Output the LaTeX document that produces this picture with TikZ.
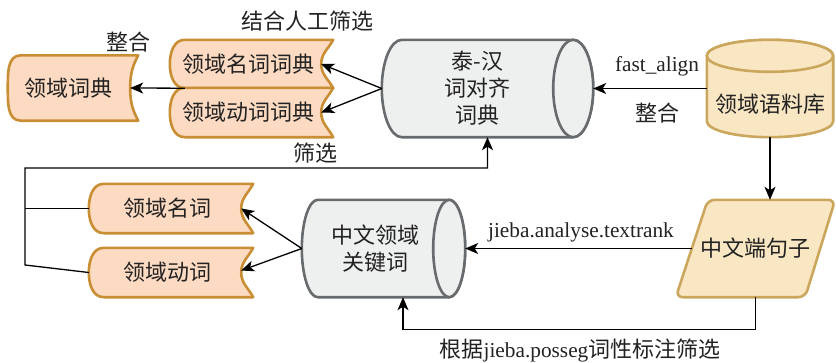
\documentclass[tikz,border=0pt]{standalone}
\usepackage{fontspec}
\setmainfont{Liberation Serif}
\newfontfamily\cjkf{Noto Sans CJK SC}
\newcommand\cjk{\cjkf\fontsize{22}{27}\selectfont}
\usetikzlibrary{arrows.meta,calc,backgrounds}
\definecolor{peachfill}{HTML}{FDDBC2}
\definecolor{peachline}{HTML}{C98E34}
\definecolor{tanfill}{HTML}{F9E6C3}
\definecolor{tanline}{HTML}{CBA75E}
\definecolor{grayfill}{HTML}{EEEFEF}
\definecolor{grayline}{HTML}{686B6E}
\definecolor{txt}{HTML}{222222}
\tikzset{
  box/.style={draw=none,inner sep=0pt,align=center,text=txt,font=\fontsize{21.3}{27}\selectfont},
  lbl/.style={inner sep=0pt,text=txt,font=\fontsize{21.3}{27}\selectfont},
  peachshape/.style={fill=peachfill,draw=peachline,line width=2.6pt,line join=round},
  tanshape/.style={fill=tanfill,draw=tanline,line width=2.6pt,line join=round},
  grayshape/.style={fill=grayfill,draw=grayline,line width=2.6pt,line join=round},
  conn/.style={draw=black,line width=1.3pt},
  arr/.style={conn,-{Stealth[length=13pt,width=11pt,inset=3.5pt]}},
}
% tape-like box: node, left bulge, right concave depth
\newcommand\tapeshape[3]{%
  \path[peachshape] let \p1=(#1.north west), \p2=(#1.south east), \n1={(\y1+\y2)/2} in
   (\x1+#2,\y1) -- (\x2,\y1) to[out=-118,in=90] (\x2-#3,\n1) to[out=-90,in=118] (\x2,\y2)
   -- (\x1+#2,\y2) to[out=180,in=-90] (\x1,\n1) to[out=90,in=180] (\x1+#2,\y1) -- cycle;}
% horizontal cylinder: node spans left extreme to right-ellipse centre
\newcommand\hcylshape[2]{%
  \path[grayshape] let \p1=(#1.north west), \p2=(#1.south east), \n1={(\y1-\y2)/2} in
   (\x1+#2,\y1) -- (\x2,\y1) arc[start angle=90,end angle=-90,x radius=#2,y radius=\n1]
   -- (\x1+#2,\y2) arc[start angle=270,end angle=90,x radius=#2,y radius=\n1] -- cycle;
  \path[grayshape] let \p1=(#1.north west), \p2=(#1.south east), \n1={(\y1-\y2)/2} in
   (\x2,\y1-\n1) ellipse[x radius=#2,y radius=\n1];}
\begin{document}
\begin{tikzpicture}[x=1pt,y=1pt]
\useasboundingbox (0,0) rectangle (836,-362);
% nodes
\node[box,minimum width=130pt,minimum height=65pt] (dict) at (73,-88) {\cjk 领域词典\hspace*{10pt}};
\node[box,minimum width=163pt,minimum height=48pt] (ndict) at (251.5,-64) {\cjk 领域名词词典\hspace*{6pt}};
\node[box,minimum width=163pt,minimum height=49pt] (vdict) at (251.5,-112.5) {\cjk 领域动词词典\hspace*{6pt}};
\node[box,minimum width=191pt,minimum height=97pt] (align) at (477.5,-88.5) {\cjk 泰-汉\\\cjk 词对齐\\\cjk 词典};
\node[box,minimum width=126pt,minimum height=65pt] (corpus) at (770,-104.5) {\cjk 领域语料库};
\node[box,minimum width=159pt,minimum height=97pt] (sent) at (755.5,-248.5) {\cjk 中文端句子};
\node[box,minimum width=147pt,minimum height=97pt] (kw) at (375.5,-248.5) {\cjk 中文领域\\\cjk 关键词};
\node[box,minimum width=164pt,minimum height=49pt] (noun) at (171,-208.5) {\cjk 领域名词\hspace*{7pt}};
\node[box,minimum width=164pt,minimum height=49pt] (verb) at (171,-272.5) {\cjk 领域动词\hspace*{7pt}};
% shapes
\begin{pgfonlayer}{background}
\tapeshape{dict}{13pt}{8pt}
\tapeshape{ndict}{15pt}{12pt}
\tapeshape{vdict}{15pt}{12pt}
\tapeshape{noun}{15pt}{12pt}
\tapeshape{verb}{15pt}{12pt}
\hcylshape{align}{20pt}
\hcylshape{kw}{16pt}
\path[tanshape] let \p1=(corpus.north west), \p2=(corpus.south east), \n1={(\x2-\x1)/2} in
  (\x1,\y1+16pt) -- (\x1,\y2+16pt) arc[start angle=180,end angle=360,x radius=\n1,y radius=16pt]
  -- (\x2,\y1+16pt) arc[start angle=0,end angle=180,x radius=\n1,y radius=16pt] -- cycle;
\path[tanshape] let \p1=(corpus.north west), \p2=(corpus.south east), \n1={(\x2-\x1)/2} in
  (\x1+\n1,\y1+16pt) ellipse[x radius=\n1,y radius=16pt];
\path[tanshape,rounded corners=7pt] let \p1=(sent.north west), \p2=(sent.south east) in
  (\x1+32pt,\y1) -- (\x2,\y1) -- (\x2-30pt,\y2) -- (\x1,\y2) -- cycle;
\end{pgfonlayer}
% helper coordinates
\coordinate (j0) at (25,-168);
\coordinate (j1) at (25,-208.5);
\coordinate (j2) at (25,-265);
% connectors
\draw[arr] ([yshift=16pt]corpus.west) -- ([xshift=20pt]align.east);
\draw[arr] (corpus.south) -- (corpus.south |- sent.north);
\draw[arr] ([xshift=16pt]sent.west) -- ([xshift=16pt]kw.east);
\draw[arr] (sent.south) -- ++(0,-32) -| ([xshift=27.5pt]kw.south);
\draw[arr] (kw.west) -- ([xshift=-12pt]noun.east);
\draw[arr] (kw.west) -- ([xshift=-12pt,yshift=2pt]verb.east);
\draw[arr] (align.west) -- ([xshift=-12pt]ndict.east);
\draw[arr] (align.west) -- ([xshift=-12pt]vdict.east);
\draw[arr] ([xshift=15pt]ndict.south west) -- ([xshift=-8pt]dict.east);
\draw[conn] (noun.west) -- (j1);
\draw[arr] (verb.west) -- (j2) -- (j0) -| ([xshift=10pt]align.south);
% labels
\node[lbl] (l1) at (128,-42) {\cjk 整合};
\node[lbl] (l2) at (307,-21) {\cjk 结合人工筛选};
\node[lbl] (l3) at (315,-153) {\cjk 筛选};
\node[lbl] (l4) at (657,-66) {fast\_align};
\node[lbl] (l5) at (657,-113) {\cjk 整合};
\node[lbl] (l6) at (581,-232) {jieba.analyse.textrank};
\node[lbl] (l7) at (580,-350) {{\cjk 根据}jieba.posseg{\cjk 词性标注筛选}};
\end{tikzpicture}
\end{document}
